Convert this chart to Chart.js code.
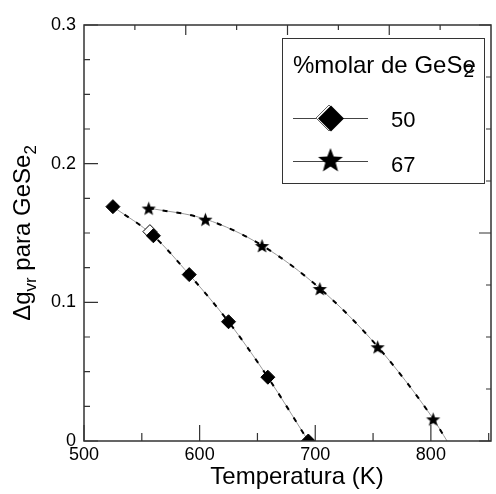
<!DOCTYPE html>
<html>
<head>
<meta charset="utf-8">
<script src="https://cdn.jsdelivr.net/npm/chart.js@4.4.0/dist/chart.umd.min.js"></script>
<style>
    html, body { margin: 0; padding: 0; background: #fff; overflow: hidden; }
    #wrap { width: 500px; height: 494px; }
</style>
</head>
<body>
<div id="wrap"><canvas id="myChart"></canvas></div>
<script>
// values
const tempsDiamond = [525, 560, 591, 625, 659, 694]
const valsDiamond = [0.169, 0.148, 0.120, 0.086, 0.046, 0.0]
const openDiamond = { x: 557, y: 0.151 }
const tempsStar = [556, 605, 654, 704, 754, 802]
const valsStar = [0.168, 0.160, 0.141, 0.110, 0.068, 0.016]
const starCurveEnd = { x: 814, y: 0 }

const xMajor = [500, 600, 700, 800]
const xMinor = [550, 650, 750, 850]
const yMajor = [0, 0.1, 0.2, 0.3]
const yMinor = [0.025, 0.05, 0.075, 0.125, 0.15, 0.175, 0.225, 0.25, 0.275]
const rightMinor = [0.0375, 0.075, 0.1125, 0.1875, 0.225, 0.2625]
const rightMajor = [0, 0.15, 0.3]
const topMinor = [544, 632, 720, 808]
const topMajor = [588, 676, 764]

const xTitle = 'Temperatura (K)'
const legendTitle = '%molar de GeSe'
const legendSub = '2'
const legendLabels = ['50', '67']

const FONT = "'Liberation Sans', Arial, sans-serif"

function makeStar(r, color) {
    const c = document.createElement('canvas')
    const s = Math.ceil(r * 2 + 2)
    c.width = s
    c.height = s
    const g = c.getContext('2d')
    g.beginPath()
    for (let i = 0; i < 10; i++) {
        const rad = i % 2 ? r * 0.42 : r
        const a = -Math.PI / 2 + i * Math.PI / 5
        g.lineTo(s / 2 + rad * Math.cos(a), s / 2 + 1 + rad * Math.sin(a))
    }
    g.closePath()
    g.fillStyle = color
    g.fill()
    return c
}

const pts = (xs, ys) => xs.map((x, i) => ({ x: x, y: ys[i] }))
const diamondPts = pts(tempsDiamond, valsDiamond)
const starPts = pts(tempsStar, valsStar)
const starCurve = starPts.concat([starCurveEnd])

const curveGray = { showLine: true, borderColor: '#9a9a9a', borderWidth: 1, pointRadius: 0, cubicInterpolationMode: 'monotone', order: 3 }
const curveDash = { showLine: true, borderColor: '#000', borderWidth: 2, borderDash: [5, 9], pointRadius: 0, cubicInterpolationMode: 'monotone', order: 2 }

// frame, inward ticks, titles and legend box
const framePlugin = {
    id: 'frame',
    afterDraw(chart) {
        const { ctx, chartArea: a, scales: { x, y } } = chart
        ctx.save()
        ctx.strokeStyle = '#333'
        ctx.lineWidth = 1.5
        ctx.beginPath()
        ctx.moveTo(a.left, a.top)
        ctx.lineTo(a.right, a.top)
        ctx.lineTo(a.right, a.bottom)
        ctx.lineTo(a.left, a.bottom)
        ctx.closePath()
        ctx.stroke()

        ctx.lineWidth = 1.2
        ctx.beginPath()
        yMajor.forEach(v => { const p = y.getPixelForValue(v); ctx.moveTo(a.left, p); ctx.lineTo(a.left + 14, p) })
        yMinor.forEach(v => { const p = y.getPixelForValue(v); ctx.moveTo(a.left, p); ctx.lineTo(a.left + 6, p) })
        rightMajor.forEach(v => { const p = y.getPixelForValue(v); ctx.moveTo(a.right, p); ctx.lineTo(a.right - 12, p) })
        rightMinor.forEach(v => { const p = y.getPixelForValue(v); ctx.moveTo(a.right, p); ctx.lineTo(a.right - 5, p) })
        xMajor.forEach(v => { const p = x.getPixelForValue(v); ctx.moveTo(p, a.bottom); ctx.lineTo(p, a.bottom - 16) })
        xMinor.forEach(v => { const p = x.getPixelForValue(v); ctx.moveTo(p, a.bottom); ctx.lineTo(p, a.bottom - 8) })
        topMajor.forEach(v => { const p = x.getPixelForValue(v); ctx.moveTo(p, a.top); ctx.lineTo(p, a.top + 10) })
        topMinor.forEach(v => { const p = x.getPixelForValue(v); ctx.moveTo(p, a.top); ctx.lineTo(p, a.top + 5) })
        ctx.stroke()

        // x title
        ctx.fillStyle = '#000'
        ctx.font = '24px ' + FONT
        ctx.textAlign = 'center'
        ctx.textBaseline = 'alphabetic'
        ctx.fillText(xTitle, 297, 484)
        ctx.textAlign = 'left'

        // y title with subscripts
        const parts = [
            { t: '\u0394g', size: 24, dy: 0 },
            { t: 'vr', size: 17, dy: 6 },
            { t: ' para GeSe', size: 24, dy: 0 },
            { t: '2', size: 17, dy: 6 }
        ]
        let total = 0
        parts.forEach(p => { ctx.font = p.size + 'px ' + FONT; p.w = ctx.measureText(p.t).width; total += p.w })
        ctx.translate(30, (a.top + a.bottom) / 2)
        ctx.rotate(-Math.PI / 2)
        let cx = -total / 2
        parts.forEach(p => { ctx.font = p.size + 'px ' + FONT; ctx.fillText(p.t, cx, p.dy); cx += p.w })
        ctx.restore()

        // legend
        ctx.save()
        ctx.fillStyle = '#fff'
        ctx.fillRect(282, 38, 202, 145)
        ctx.strokeStyle = '#333'
        ctx.lineWidth = 1
        ctx.strokeRect(282.5, 38.5, 202, 145)
        ctx.fillStyle = '#000'
        ctx.font = '24px ' + FONT
        ctx.fillText(legendTitle, 293, 73)
        const tw = ctx.measureText(legendTitle).width
        const ew = ctx.measureText('e').width
        ctx.font = '19px ' + FONT
        ctx.fillText(legendSub, 293 + tw - ew + 1, 77)

        ctx.strokeStyle = '#444'
        ctx.beginPath()
        ctx.moveTo(293, 118.5); ctx.lineTo(368, 118.5)
        ctx.moveTo(293, 161.5); ctx.lineTo(368, 161.5)
        ctx.stroke()
        // diamond marker
        ctx.strokeStyle = '#666'
        ctx.beginPath()
        ctx.moveTo(329, 105); ctx.lineTo(342, 118); ctx.lineTo(329, 131); ctx.lineTo(316, 118); ctx.closePath()
        ctx.fillStyle = '#fff'; ctx.fill(); ctx.stroke()
        ctx.beginPath()
        ctx.moveTo(331, 105.5); ctx.lineTo(344, 118.5); ctx.lineTo(331, 131.5); ctx.lineTo(318, 118.5); ctx.closePath()
        ctx.fillStyle = '#000'; ctx.fill()
        const bigStar = makeStar(13, '#000')
        ctx.drawImage(bigStar, 330.5 - bigStar.width / 2, 160 - bigStar.height / 2)

        ctx.font = '22px ' + FONT
        ctx.fillText(legendLabels[0], 391, 127)
        ctx.fillText(legendLabels[1], 391, 172)
        ctx.restore()
    }
}

const ctx = document.getElementById('myChart')
const chart = new Chart(ctx, {
    type: 'line',
    data: {
        datasets: [
            Object.assign({ label: '50 curve', data: diamondPts }, curveGray),
            Object.assign({ label: '50 dash', data: diamondPts }, curveDash),
            Object.assign({ label: '67 curve', data: starCurve }, curveGray),
            Object.assign({ label: '67 dash', data: starCurve }, curveDash),
            {
                label: '50 open', data: [openDiamond], showLine: false, order: 1,
                pointStyle: 'rectRot', pointRadius: 7, pointBackgroundColor: '#fff', pointBorderColor: '#000', pointBorderWidth: 1
            },
            {
                label: legendLabels[0], data: diamondPts, showLine: false, order: 0,
                pointStyle: 'rectRot', pointRadius: 7, pointBackgroundColor: '#000', pointBorderColor: '#000', pointBorderWidth: 1
            },
            {
                label: legendLabels[1], data: starPts, showLine: false, order: 0,
                pointStyle: makeStar(7.5, '#000'), pointRadius: 8
            }
        ]
    },
    options: {
        responsive: true,
        maintainAspectRatio: false,
        animation: false,
        devicePixelRatio: 1,
        layout: { padding: { top: 25, right: 3, left: 0, bottom: 0 } },
        plugins: { legend: { display: false }, tooltip: { enabled: false } },
        scales: {
            x: {
                type: 'linear',
                min: 500,
                max: 852,
                afterFit: s => { s.height = 53 },
                grid: { display: false, drawTicks: false },
                border: { display: false },
                ticks: { stepSize: 100, includeBounds: false, padding: 3, color: '#000', font: { family: FONT, size: 18 } }
            },
            y: {
                min: 0,
                max: 0.3,
                afterFit: s => { s.width = 84 },
                grid: { display: false, drawTicks: false },
                border: { display: false },
                ticks: {
                    stepSize: 0.1, padding: 8, color: '#000', font: { family: FONT, size: 18 },
                    callback: v => v === 0 ? '0' : v.toFixed(1)
                }
            }
        }
    },
    plugins: [framePlugin]
})
</script>
</body>
</html>
